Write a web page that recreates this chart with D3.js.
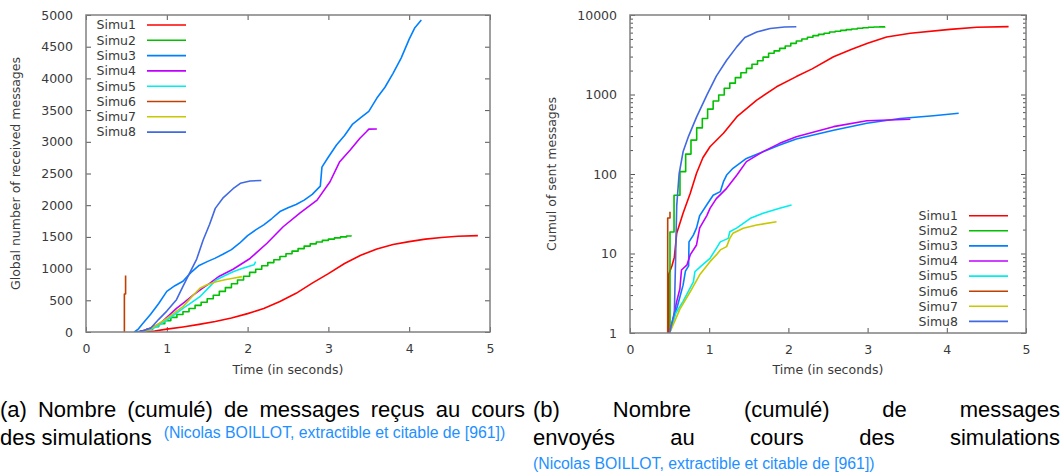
<!DOCTYPE html>
<html>
<head>
<meta charset="utf-8">
<script src="https://cdn.jsdelivr.net/npm/d3@7"></script>
<style>
body { margin: 0; background: #fff; }
svg { display: block; }
</style>
</head>
<body>
<svg id="chart" width="1063" height="474"></svg>
<script>
// series names and colours (gnuplot palette)
const names = ["Simu1", "Simu2", "Simu3", "Simu4", "Simu5", "Simu6", "Simu7", "Simu8"];
const colors = ["#ff0000", "#00c000", "#0080ff", "#c000ff", "#00eeee", "#c04000", "#c8c800", "#4169e1"];

const timeTicks = [0, 1, 2, 3, 4, 5];
const recvTicks = [0, 500, 1000, 1500, 2000, 2500, 3000, 3500, 4000, 4500, 5000];
const sentTicks = [1, 10, 100, 1000, 10000];

// (a) received messages, [time, count]
const recv1 = [[0.7,0],[0.85,15],[1.0,45],[1.2,80],[1.4,120],[1.6,165],[1.8,220],[2.0,290],[2.2,370],[2.4,480],[2.6,610],[2.8,770],[3.0,920],[3.2,1080],[3.4,1210],[3.6,1310],[3.8,1380],[4.0,1425],[4.2,1465],[4.4,1490],[4.6,1510],[4.85,1520]];
const recv2 = [[0.6,5],[0.675,20],[0.75,45],[0.825,85],[0.9,130],[0.975,180],[1.05,230],[1.125,275],[1.2,320],[1.275,370],[1.35,420],[1.425,470],[1.5,525],[1.575,580],[1.65,640],[1.725,700],[1.8,760],[1.875,820],[1.95,880],[2.025,940],[2.1,990],[2.175,1045],[2.25,1095],[2.325,1140],[2.4,1190],[2.475,1235],[2.55,1275],[2.625,1315],[2.7,1355],[2.775,1390],[2.85,1420],[2.925,1445],[3.0,1465],[3.075,1485],[3.15,1500],[3.225,1515],[3.28,1525]];
const recv3 = [[0.6,0],[0.65,50],[0.7,130],[0.8,280],[0.9,450],[1.0,640],[1.1,730],[1.2,800],[1.3,940],[1.4,1050],[1.5,1110],[1.6,1165],[1.7,1230],[1.8,1300],[1.9,1400],[2.0,1520],[2.1,1610],[2.2,1690],[2.3,1790],[2.4,1900],[2.5,1960],[2.6,2010],[2.7,2080],[2.8,2170],[2.9,2300],[2.92,2600],[3.0,2760],[3.1,2950],[3.2,3100],[3.3,3280],[3.4,3380],[3.5,3480],[3.6,3690],[3.7,3860],[3.8,4080],[3.9,4320],[4.0,4620],[4.07,4800],[4.15,4920]];
const recv4 = [[0.65,0],[0.75,40],[0.85,90],[0.92,137],[1.0,230],[1.12,373],[1.22,470],[1.33,584],[1.43,680],[1.53,768],[1.65,880],[1.82,990],[2.03,1160],[2.24,1400],[2.44,1660],[2.65,1880],[2.86,2080],[3.02,2370],[3.14,2686],[3.27,2871],[3.39,3055],[3.47,3159],[3.5,3200],[3.6,3202]];
const recv5 = [[0.7,0],[0.8,40],[0.9,100],[1.0,189],[1.1,280],[1.2,373],[1.3,460],[1.41,557],[1.53,715],[1.61,820],[1.72,890],[1.82,951],[1.93,1000],[2.03,1041],[2.08,1060],[2.10,1109]];
const recv6 = [[0.475,0],[0.475,600],[0.49,600],[0.49,890]];
const recv7 = [[0.72,0],[0.8,50],[0.9,130],[1.0,216],[1.1,310],[1.2,400],[1.33,584],[1.41,689],[1.49,741],[1.61,794],[1.72,825],[1.82,847],[1.93,873]];
const recv8 = [[0.6,0],[0.7,15],[0.8,60],[0.9,200],[1.0,330],[1.12,510],[1.2,720],[1.29,950],[1.37,1150],[1.45,1450],[1.53,1700],[1.6,1950],[1.7,2120],[1.82,2260],[1.91,2345],[2.03,2382],[2.17,2390]];

// (b) sent messages, [time, count]
const sent1 = [[0.49,1],[0.49,5.5],[0.53,7],[0.56,9],[0.59,18],[0.67,32],[0.76,57],[0.84,102],[0.92,160],[1.01,220],[1.18,325],[1.35,526],[1.6,850],[1.85,1250],[2.1,1680],[2.3,2100],[2.57,2990],[2.8,3700],[3.0,4400],[3.24,5300],[3.54,5900],[4.04,6600],[4.38,7000],[4.78,7150]];
const sent2 = [[0.49,1],[0.505,18.6],[0.556,54],[0.631,107],[0.703,178],[0.77,267],[0.842,380],[0.913,500],[0.98,655],[1.05,830],[1.12,985],[1.19,1200],[1.26,1390],[1.33,1630],[1.4,1880],[1.47,2130],[1.54,2400],[1.61,2660],[1.68,2950],[1.75,3300],[1.82,3540],[1.89,3800],[1.96,4070],[2.03,4400],[2.10,4710],[2.17,4990],[2.24,5240],[2.31,5500],[2.38,5700],[2.45,5900],[2.52,6100],[2.59,6250],[2.66,6400],[2.73,6550],[2.80,6680],[2.87,6800],[2.94,6900],[3.01,7000],[3.08,7050],[3.15,7100],[3.22,7130]];
const sent3 = [[0.5,1],[0.55,1.5],[0.6,2.2],[0.67,4],[0.7,6],[0.74,7],[0.745,14],[0.8,17],[0.84,21],[0.88,30],[0.97,41],[1.05,54],[1.14,60],[1.18,80],[1.22,97],[1.3,118],[1.47,157],[1.68,191],[1.89,232],[2.1,275],[2.57,355],[2.99,434],[3.41,500],[3.83,540],[4.15,580]];
const sent4 = [[0.5,1],[0.55,1.6],[0.59,2.5],[0.63,3.6],[0.65,6.2],[0.72,7.2],[0.76,9.6],[0.84,12.8],[0.88,21],[0.97,30],[1.01,37],[1.09,49],[1.22,66],[1.35,97],[1.47,143],[1.68,191],[1.89,243],[2.1,295],[2.57,394],[2.99,468],[3.54,488]];
const sent5 = [[0.5,1],[0.58,1.8],[0.67,2.5],[0.8,4.4],[0.82,5.9],[0.9,7],[1.01,8.7],[1.09,11.6],[1.14,14],[1.24,15.5],[1.26,18.8],[1.35,21],[1.52,27.7],[1.68,32],[1.89,37],[2.04,40.7]];
const sent6 = [[0.476,1],[0.476,28],[0.505,28],[0.505,33.5]];
const sent7 = [[0.5,1],[0.63,2.0],[0.76,3.3],[0.88,5.4],[1.01,7.9],[1.09,9.6],[1.14,11.1],[1.22,12.2],[1.26,15.5],[1.3,18],[1.43,20.8],[1.6,22.8],[1.85,25.1]];
const sent8 = [[0.5,1],[0.56,1.8],[0.575,8],[0.59,40],[0.62,100],[0.67,190],[0.74,300],[0.84,520],[0.97,980],[1.09,1700],[1.22,2700],[1.35,4000],[1.45,5200],[1.6,6100],[1.77,6750],[1.95,7050],[2.1,7130]];

const recvSeries = [recv1, recv2, recv3, recv4, recv5, recv6, recv7, recv8];
const sentSeries = [sent1, sent2, sent3, sent4, sent5, sent6, sent7, sent8];
const stepped = [false, true, false, false, false, false, false, false];

const svg = d3.select("#chart");
const tickFont = "'DejaVu Sans', Verdana, sans-serif";

function panel(cfg) {
    let x = d3.scaleLinear().domain([0, 5]).range([cfg.left, cfg.right]);
    let y = cfg.y.range([cfg.bottom, cfg.top]);
    let g = svg.append("g");

    svg.append("clipPath").attr("id", cfg.id)
        .append("rect")
        .attr("x", cfg.left).attr("y", cfg.top)
        .attr("width", cfg.right - cfg.left).attr("height", cfg.bottom - cfg.top);

    // axes with inward ticks on all four sides
    g.append("g").attr("transform", `translate(0,${cfg.bottom})`)
        .call(d3.axisBottom(x).tickValues(timeTicks).tickSize(-5).tickPadding(12).tickFormat(d3.format("d")));
    g.append("g").attr("transform", `translate(0,${cfg.top})`)
        .call(d3.axisTop(x).tickValues(timeTicks).tickSize(-5).tickFormat(""));
    g.append("g").attr("transform", `translate(${cfg.left},0)`)
        .call(d3.axisLeft(y).tickValues(cfg.ticks).tickSize(-5).tickPadding(13).tickFormat(d3.format("d")));
    g.append("g").attr("transform", `translate(${cfg.right},0)`)
        .call(d3.axisRight(y).tickValues(cfg.ticks).tickSize(-5).tickFormat(""));

    if (cfg.log) {
        let minor = y.ticks().filter(v => !cfg.ticks.includes(v));
        g.append("g").attr("transform", `translate(${cfg.left},0)`)
            .call(d3.axisLeft(y).tickValues(minor).tickSize(-3).tickFormat(""));
        g.append("g").attr("transform", `translate(${cfg.right},0)`)
            .call(d3.axisRight(y).tickValues(minor).tickSize(-3).tickFormat(""));
    }

    g.selectAll(".domain").remove();
    g.selectAll(".tick line").attr("stroke", "#555");
    g.selectAll(".tick text")
        .style("font-family", tickFont).style("font-size", "12.5px").attr("fill", "#3a3a3a");

    // curves
    let lines = svg.append("g").attr("clip-path", `url(#${cfg.id})`);
    cfg.data.forEach((d, i) => {
        let line = d3.line()
            .x(p => x(p[0]))
            .y(p => y(p[1]))
            .curve(stepped[i] ? d3.curveStepAfter : d3.curveLinear);
        lines.append("path")
            .datum(d)
            .attr("d", line)
            .attr("fill", "none")
            .attr("stroke", colors[i])
            .attr("stroke-width", 1.6)
            .attr("stroke-linejoin", "round");
    });

    // frame
    svg.append("rect")
        .attr("x", cfg.left).attr("y", cfg.top)
        .attr("width", cfg.right - cfg.left).attr("height", cfg.bottom - cfg.top)
        .attr("fill", "none").attr("stroke", "#808080").attr("stroke-width", 1.5);

    // axis titles
    svg.append("text")
        .attr("x", (cfg.left + cfg.right) / 2).attr("y", 374)
        .attr("text-anchor", "middle")
        .style("font-family", tickFont).style("font-size", "12.5px").attr("fill", "#3a3a3a")
        .text("Time (in seconds)");
    svg.append("text")
        .attr("transform", `translate(${cfg.ylabelX},${(cfg.top + cfg.bottom) / 2}) rotate(-90)`)
        .attr("text-anchor", "middle")
        .style("font-family", tickFont).style("font-size", "12.5px").attr("fill", "#3a3a3a")
        .text(cfg.ylabel);

    // legend
    let leg = svg.append("g");
    names.forEach((n, i) => {
        let ly = cfg.legY + i * cfg.legStep;
        leg.append("text")
            .attr("x", cfg.legX).attr("y", ly).attr("dy", "0.35em")
            .attr("text-anchor", "end")
            .style("font-family", tickFont).style("font-size", "12.5px").attr("fill", "#3a3a3a")
            .text(n);
        leg.append("line")
            .attr("x1", cfg.legX + 11).attr("x2", cfg.legX + 50)
            .attr("y1", ly).attr("y2", ly)
            .attr("stroke", colors[i]).attr("stroke-width", 1.6);
    });
}

panel({
    id: "clipA", left: 86, right: 490, top: 15, bottom: 332,
    y: d3.scaleLinear().domain([0, 5000]), ticks: recvTicks, log: false,
    data: recvSeries, ylabel: "Global number of received messages", ylabelX: 20,
    legX: 136, legY: 25, legStep: 15.3
});

panel({
    id: "clipB", left: 630, right: 1026, top: 15, bottom: 333,
    y: d3.scaleLog().domain([1, 10000]), ticks: sentTicks, log: true,
    data: sentSeries, ylabel: "Cumul of sent messages", ylabelX: 556,
    legX: 958, legY: 215.7, legStep: 15.1
});

// captions (justified like the LaTeX subcaptions)
const capFont = "'Liberation Sans', Arial, Helvetica, sans-serif";
const cap = svg.append("g").style("font-family", capFont);

function justify(words, x0, x1, yb) {
    let ts = words.map(w => cap.append("text").attr("y", yb)
        .style("font-size", "22px").attr("fill", "#000").text(w));
    let widths = ts.map(t => t.node().getComputedTextLength());
    let gap = (x1 - x0 - d3.sum(widths)) / (words.length - 1);
    let xx = x0;
    ts.forEach((t, i) => { t.attr("x", xx); xx += widths[i] + gap; });
}

function plain(str, x0, yb, size, fill) {
    return cap.append("text").attr("x", x0).attr("y", yb)
        .style("font-size", size).attr("fill", fill).text(str);
}

const citation = "(Nicolas BOILLOT, extractible et citable de [961])";

justify(["(a)", "Nombre", "(cumulé)", "de", "messages", "reçus", "au", "cours"], 0, 525, 417);
let des = plain("des simulations", 0, 445, "22px", "#000");
plain(citation, des.node().getComputedTextLength() + 12, 438, "15.8px", "#1e90ff");

justify(["(b)", "Nombre", "(cumulé)", "de", "messages"], 533, 1060, 417);
justify(["envoyés", "au", "cours", "des", "simulations"], 533, 1060, 445);
plain(citation, 533, 469, "15.8px", "#1e90ff");
</script>
</body>
</html>
